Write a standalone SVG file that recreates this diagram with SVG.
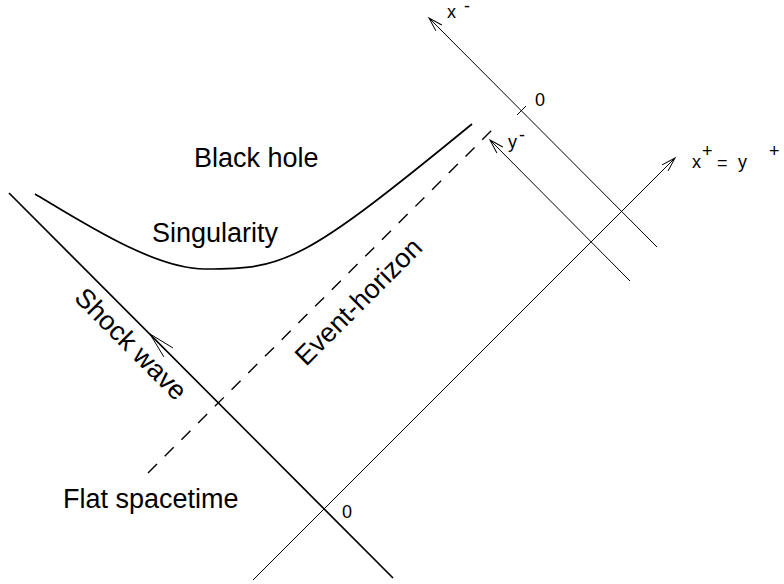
<svg xmlns="http://www.w3.org/2000/svg" width="784" height="584" viewBox="0 0 784 584">
<defs>
<style>
.lbl{font-family:"Liberation Sans",Arial,sans-serif;font-size:27px;fill:#000}
.sm{font-family:"Liberation Sans",Arial,sans-serif;font-size:18px;fill:#000}
.ax{stroke:#000;stroke-width:1;fill:none}
.thick{stroke:#000;stroke-width:1.7;fill:none}
.dash{stroke:#000;stroke-width:1.4;fill:none;stroke-dasharray:12.7 10.9}
</style>
<marker id="arr" markerUnits="userSpaceOnUse" markerWidth="20" markerHeight="12" refX="0" refY="0" viewBox="-16 -6 20 12" orient="auto">
<path d="M-14,-4.2 L0,0 L-14,4.2" stroke="#000" stroke-width="1" fill="none"/>
</marker>
</defs>
<rect width="784" height="584" fill="#fff"/>
<g id="connectors">
<path id="shock" class="thick" d="M9,193 L393,578"/>
<path id="shock-arrow" class="ax" stroke-width="1.4" d="M172.9,347.9 L150,334 L163.9,356.9"/>
<path id="horizon" class="dash" d="M148,473 L499,123"/>
<path id="singularity" class="thick" d="M35,194 C85,224 155,269 205,269 C285,269 302,263.4 472,124"/>
<path id="xplus-axis" class="ax" d="M253,580 L675,158" marker-end="url(#arr)"/>
<path id="xminus-axis" class="ax" d="M657,247 L429,18" marker-end="url(#arr)"/>
<path id="yminus-axis" class="ax" d="M630,281 L490,140" marker-end="url(#arr)"/>
<path id="tick" class="ax" d="M517,115 L526,106"/>
</g>
<g id="labels">
<g id="black-hole"><text class="lbl" x="194" y="167">Black hole</text></g>
<g id="singularity-label"><text class="lbl" x="152" y="242">Singularity</text></g>
<g id="flat"><text class="lbl" x="63" y="508">Flat spacetime</text></g>
<g id="shock-label"><text class="lbl" transform="translate(73,299) rotate(45)">Shock wave</text></g>
<g id="horizon-label"><text class="lbl" transform="translate(306,367) rotate(-45)">Event-horizon</text></g>
<g id="zero-top"><text class="sm" x="535" y="106">0</text></g>
<g id="zero-bottom"><text class="sm" x="342" y="518">0</text></g>
<g id="xminus-label"><text class="sm" x="447" y="18">x<tspan x="464" y="12">-</tspan></text></g>
<g id="yminus-label"><text class="sm" x="508" y="148">y<tspan x="519" y="141">-</tspan></text></g>
<g id="xplus-label"><text class="sm" x="692" y="168">x<tspan x="702" y="157">+</tspan><tspan x="717" y="169">=</tspan><tspan x="738" y="168">y</tspan><tspan x="769" y="157">+</tspan></text></g>
</g>
</svg>
